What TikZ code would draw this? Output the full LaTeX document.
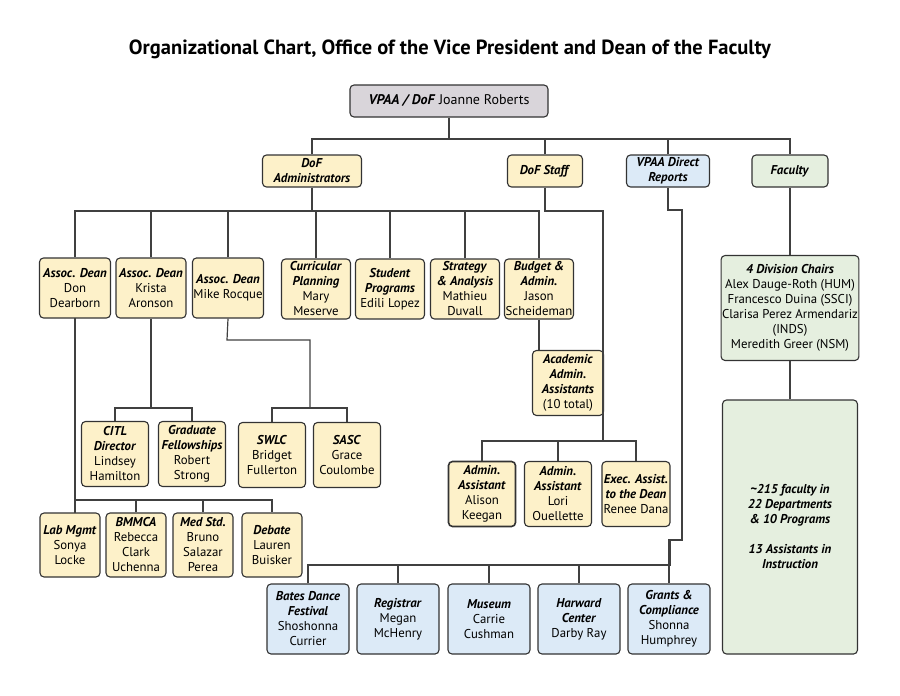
\documentclass[tikz,border=0pt]{standalone}
\usepackage{fontspec}
\setmainfont{PT Sans}
\begin{document}
\begin{tikzpicture}[x=1pt,y=-1pt,
 box/.style={draw=black!80,line width=1.1pt,rounded corners=4pt,align=center,inner sep=1pt,font=\fontsize{12.8}{15}\selectfont},
 yel/.style={box,fill={rgb,255:red,253;green,241;blue,201}},
 blu/.style={box,fill={rgb,255:red,220;green,234;blue,247}},
 grn/.style={box,fill={rgb,255:red,229;green,239;blue,223}},
 gry/.style={box,fill={rgb,255:red,217;green,213;blue,218}},
 ln/.style={draw=black!75,line width=1.2pt}]
\useasboundingbox (0,0) rectangle (900,696);
\newcommand\hd[1]{\textbf{\textit{#1}}}
\node (title) at (450,49) {\fontsize{20.5}{24}\selectfont\bfseries Organizational Chart, Office of the Vice President and Dean of the Faculty};
\node[gry,minimum width=198,minimum height=32] (vp) at (449,101) {\fontsize{14}{16}\selectfont\hd{VPAA / DoF} Joanne Roberts};
\node[yel,minimum width=99,minimum height=32] (dofa) at (312,171) {\hd{DoF}\\\hd{Administrators}};
\node[yel,minimum width=75,minimum height=32] (dofs) at (545,171) {\hd{DoF Staff}};
\node[blu,minimum width=83,minimum height=32] (vd) at (668,171) {\hd{VPAA Direct}\\\hd{Reports}};
\node[grn,minimum width=76,minimum height=32] (fac) at (790,171) {\hd{Faculty}};
% row 2
\tikzset{r2/.style={yel,minimum width=69,minimum height=60}}
\node[r2,minimum width=71] (don) at (75,288) {\hd{Assoc. Dean}\\Don\\Dearborn};
\node[r2,minimum width=70] (kri) at (151,288) {\hd{Assoc. Dean}\\Krista\\Aronson};
\node[r2,minimum width=70] (mik) at (228,288) {\hd{Assoc. Dean}\\Mike Rocque};
\node[r2] (cur) at (316,289) {\hd{Curricular}\\\hd{Planning}\\Mary\\Meserve};
\node[r2] (stu) at (390,289) {\hd{Student}\\\hd{Programs}\\Edili Lopez};
\node[r2] (str) at (465,289) {\hd{Strategy}\\\hd{\& Analysis}\\Mathieu\\Duvall};
\node[r2] (bud) at (539,289) {\hd{Budget \&}\\\hd{Admin.}\\Jason\\Scheideman};
\node[yel,minimum width=71,minimum height=65] (aca) at (568,383) {\hd{Academic}\\\hd{Admin.}\\\hd{Assistants}\\(10 total)};
% row 3
\tikzset{r3/.style={yel,minimum width=67,minimum height=65}}
\node[r3] (citl) at (115,454) {\hd{CITL}\\\hd{Director}\\Lindsey\\Hamilton};
\node[r3] (grad) at (192,454) {\hd{Graduate}\\\hd{Fellowships}\\Robert\\Strong};
\node[r3] (swlc) at (272,455) {\hd{SWLC}\\Bridget\\Fullerton};
\node[r3] (sasc) at (347,455) {\hd{SASC}\\Grace\\Coulombe};
\node[r3,line width=1.6pt] (ali) at (482,494) {\hd{Admin.}\\\hd{Assistant}\\Alison\\Keegan};
\node[r3] (lor) at (558,494) {\hd{Admin.}\\\hd{Assistant}\\Lori\\Ouellette};
\node[r3,minimum width=68] (exe) at (636,494) {\hd{Exec. Assist.}\\\hd{to the Dean}\\Renee Dana};
% row 4
\tikzset{r4/.style={yel,minimum width=60,minimum height=64}}
\node[r4] (lab) at (70,545) {\hd{Lab Mgmt}\\Sonya\\Locke};
\node[r4] (bmm) at (136,545) {\hd{BMMCA}\\Rebecca\\Clark\\Uchenna};
\node[r4] (med) at (203,545) {\hd{Med Std.}\\Bruno\\Salazar\\Perea};
\node[r4] (deb) at (272,545) {\hd{Debate}\\Lauren\\Buisker};
% blue
\tikzset{r5/.style={blu,minimum width=82,minimum height=70}}
\node[r5] (bat) at (308,619) {\hd{Bates Dance}\\\hd{Festival}\\Shoshonna\\Currier};
\node[r5] (reg) at (398,619) {\hd{Registrar}\\Megan\\McHenry};
\node[r5] (mus) at (489,619) {\hd{Museum}\\Carrie\\Cushman};
\node[r5] (har) at (579,619) {\hd{Harward}\\\hd{Center}\\Darby Ray};
\node[r5] (gra) at (669,619) {\hd{Grants \&}\\\hd{Compliance}\\Shonna\\Humphrey};
% faculty
\node[grn,minimum width=135,minimum height=105] (div) at (790,308) {\hd{4 Division Chairs}\\Alex Dauge-Roth (HUM)\\Francesco Duina (SSCI)\\Clarisa Perez Armendariz\\(INDS)\\Meredith Greer (NSM)};
\node[grn,minimum width=135,minimum height=254] (fbig) at (790,527) {\hd{\textasciitilde 215 faculty in}\\\hd{22 Departments}\\\hd{\& 10 Programs}\\[15pt]\hd{13 Assistants in}\\\hd{Instruction}};
% coordinates
\coordinate (b1) at (0,139);
\coordinate (b2) at (0,211);
\coordinate (b3) at (0,408);
\coordinate (b4) at (0,500);
\coordinate (b5) at (0,441);
\coordinate (b6) at (0,565);
% connectors
\draw[ln] (vp.south) -- (vp.south |- b1);
\draw[ln] (dofa.north) -- (dofa.north |- b1) -| (fac.north);
\draw[ln] (dofs.north) -- (dofs.north |- b1);
\draw[ln] (vd.north) -- (vd.north |- b1);
\draw[ln] (dofa.south) -- (dofa.south |- b2);
\draw[ln] (don.north) -- (don.north |- b2) -| (bud.north);
\foreach \n in {kri,mik,cur,stu,str} \draw[ln] (\n.north) -- (\n.north |- b2);
\draw[ln] (bud.south) -- (539,350);
\draw[ln] (dofs.south) |- (603,211) -- (603,441);
\draw[ln] (ali.north) -- (ali.north |- b5) -| (exe.north);
\draw[ln] (lor.north) -- (lor.north |- b5);
\draw[ln] (kri.south) -- (kri.south |- b3);
\draw[ln] (citl.north) -- (citl.north |- b3) -| (grad.north);
\draw[ln] (mik.south) -- (227,340) -- (310,340) -- (310,408);
\draw[ln] (swlc.north) -- (swlc.north |- b3) -| (sasc.north);
\draw[ln] (75,318) -- (75,513);
\draw[ln] (75,500) -| (deb.north);
\draw[ln] (bmm.north) -- (bmm.north |- b4);
\draw[ln] (med.north) -- (med.north |- b4);
\draw[ln] (vd.south) |- (682,210) -- (682,540) -| (gra.north);
\draw[ln] (bat.north) -- (bat.north |- b6) -| (670,540);
\foreach \n in {reg,mus,har} \draw[ln] (\n.north) -- (\n.north |- b6);
\draw[ln] (fac.south) -- (div.north);
\draw[ln] (div.south) -- (fbig.north);
\end{tikzpicture}
\end{document}
